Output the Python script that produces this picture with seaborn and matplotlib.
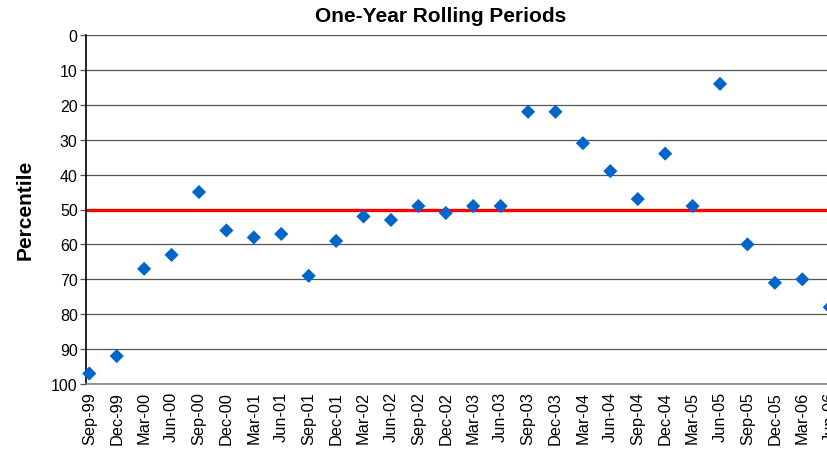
import numpy as np
import pandas as pd
import matplotlib
matplotlib.use("Agg")
import matplotlib.pyplot as plt
import seaborn as sns

quarters = ['Sep-99', 'Dec-99', 'Mar-00', 'Jun-00', 'Sep-00', 'Dec-00', 'Mar-01',
            'Jun-01', 'Sep-01', 'Dec-01', 'Mar-02', 'Jun-02', 'Sep-02', 'Dec-02',
            'Mar-03', 'Jun-03', 'Sep-03', 'Dec-03', 'Mar-04', 'Jun-04', 'Sep-04',
            'Dec-04', 'Mar-05', 'Jun-05', 'Sep-05', 'Dec-05', 'Mar-06', 'Jun-06']
percentile = [97, 92, 67, 63, 45, 56, 58, 57, 69, 59, 52, 53, 49, 51,
              49, 49, 22, 22, 31, 39, 47, 34, 49, 14, 60, 71, 70, 78]
median_line = 50
y_ticks = list(range(0, 101, 10))

df = pd.DataFrame({'quarter': quarters, 'percentile': percentile})

sns.set_style("white")
plt.rcParams['font.family'] = ['Liberation Sans', 'DejaVu Sans']
plt.rcParams['text.color'] = 'black'
plt.rcParams['xtick.color'] = 'black'
plt.rcParams['ytick.color'] = 'black'

fig = plt.figure(figsize=(8.28, 4.56), dpi=100)
W, H = 828, 456
left, right, top, bottom = 86, 833, 36, 385
ax = fig.add_axes([left / W, 1 - bottom / H, (right - left) / W, (bottom - top) / H])

# gridlines
for t in y_ticks:
    ax.axhline(t, color='#555555', lw=0.9, zorder=1)

ax.axhline(median_line, color='#ff0000', lw=2.4, zorder=2)

sns.scatterplot(data=df, x='quarter', y='percentile', marker='D', s=52,
                color='#0066cc', edgecolor='none', ax=ax, zorder=3, clip_on=False)

ax.set_xlim(-0.12, len(quarters) - 1 + 0.12)
ax.set_ylim(100, 0)
ax.set_yticks(y_ticks)
ax.set_xticks(range(len(quarters)))
ax.set_xticklabels(quarters, rotation=90, fontsize=11.8)
ax.tick_params(axis='y', labelsize=11.5, length=4, width=0.9, color='#555555', pad=2, left=True)
ax.tick_params(axis='x', length=0, pad=5)

for s in ['top', 'right']:
    ax.spines[s].set_visible(False)
ax.spines['left'].set_color('black')
ax.spines['left'].set_linewidth(1.2)
ax.spines['bottom'].set_color('#808080')
ax.spines['bottom'].set_linewidth(1.2)

ax.set_xlabel('')
ax.set_ylabel('')
fig.text(441 / W, 1 - 16 / H, 'One-Year Rolling Periods', ha='center', va='center',
         fontsize=15, fontweight='bold')
fig.text(25 / W, 1 - 210 / H, 'Percentile', ha='center', va='center', rotation=90,
         fontsize=15, fontweight='bold')

fig.savefig('out.png', dpi=100)
